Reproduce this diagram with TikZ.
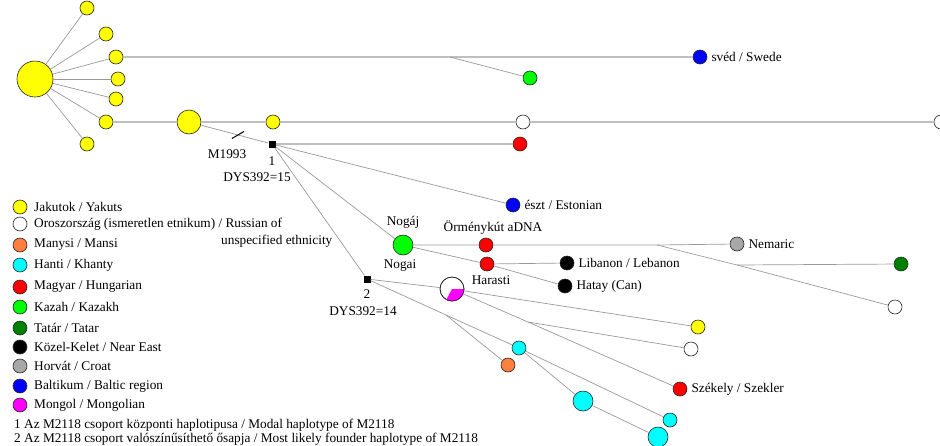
\documentclass[tikz,border=0pt]{standalone}
\usepackage{fontspec}
\setmainfont{Liberation Serif}
\usetikzlibrary{calc}

\definecolor{jak}{HTML}{FFFF00}
\definecolor{ros}{HTML}{FFFFFF}
\definecolor{man}{HTML}{FF7F3F}
\definecolor{han}{HTML}{00FFFF}
\definecolor{hun}{HTML}{FF0000}
\definecolor{kaz}{HTML}{00FF00}
\definecolor{tat}{HTML}{008000}
\definecolor{nea}{HTML}{000000}
\definecolor{cro}{HTML}{A8A8A8}
\definecolor{balt}{HTML}{0000FF}
\definecolor{mon}{HTML}{FF00FF}

\tikzset{
  hap/.style={circle, draw=black!85, line width=0.6pt, inner sep=0pt, minimum size=14pt},
  hapm/.style={hap, minimum size=20pt},
  hapl/.style={hap, minimum size=24pt},
  hapxl/.style={hap, minimum size=36pt},
  med/.style={rectangle, fill=black, inner sep=0pt, minimum size=7pt},
  link/.style={draw=gray!80, line width=0.7pt},
  trunk/.style={draw=gray!50, line width=1.8pt},
  lbl/.style={inner sep=1pt},
  rlbl/.style={lbl, anchor=west, xshift=3pt},
}

\begin{document}
\begin{tikzpicture}[x=1pt, y=-1pt, font=\fontsize{13.3}{15}\selectfont]
\useasboundingbox (0,0) rectangle (940,445);

% Yakut star
\node[hapxl, fill=jak] (yc) at (35,79) {};
\node[hap, fill=jak] (ya) at (87,8) {};
\node[hap, fill=jak] (yb) at (106,34) {};
\node[hap, fill=jak] (yd) at (116,57) {};
\node[hap, fill=jak] (ye) at (118,79) {};
\node[hap, fill=jak] (yf) at (116,99) {};
\node[hap, fill=jak] (yg) at (106,122) {};
\node[hap, fill=jak] (yh) at (87,144) {};
\foreach \s in {ya,yb,yd,ye,yf,yg,yh}
  \draw[link] (yc) -- (\s);

% swede branch
\node[hap, fill=balt] (swe) at (700,57) {};
\node[rlbl] (swel) at (swe.east) {svéd / Swede};
\coordinate (k1) at (450,57);
\node[hap, fill=kaz] (kz1) at (530,78) {};
\draw[trunk] (yd) -- (k1) -- (swe);
\draw[link] (k1) -- (kz1);

% main line
\node[hapl, fill=jak] (yy) at (189,122) {};
\node[hap, fill=jak] (yz) at (273,122) {};
\node[hap, fill=ros] (ru1) at (523,122) {};
\node[hap, fill=ros] (ru2) at (941,122) {};
\draw[trunk] (yg) -- (yy) -- (yz) -- (ru1) -- (ru2);

% median 1
\node[med] (m1) at (272,144) {};
\draw[link] (yy) -- coordinate[pos=0.55] (mut) (m1);
\draw[black, line width=1pt] ([shift={(-6,3.5)}]mut) -- ([shift={(6,-3.5)}]mut);
\node[lbl] (mutl) at (227,154) {M1993};
\node[lbl] (m1n) at (272,161) {1};
\node[lbl] (m1d) at (257,177) {DYS392=15};
\node[hap, fill=hun] (hu1) at (520,144) {};
\draw[trunk] (m1) -- (hu1);
\node[hap, fill=balt] (est) at (513,205) {};
\node[rlbl] (estl) at (est.east) {észt / Estonian};
\draw[link] (m1) -- (est);

% Nogai group
\node[hapm, fill=kaz] (nog) at (403,245) {};
\node[lbl] (nogl1) at (403,222) {Nogáj};
\node[lbl] (nogl2) at (400,266) {Nogai};
\draw[link] (m1) -- (nog);
\node[hap, fill=hun] (orm) at (486,245) {};
\node[lbl] (orml) at (493,228) {Örménykút aDNA};
\coordinate (k2) at (657,245);
\coordinate (k3) at (737,265);
\node[hap, fill=cro] (nem) at (737,244) {};
\node[rlbl] (neml) at (nem.east) {Nemaric};
\node[hap, fill=tat] (tat) at (901,264) {};
\node[hap, fill=ros] (ru3) at (895,307) {};
\draw[link] (nog) -- (orm) -- (k2) -- (nem);
\draw[link] (k2) -- (k3) -- (ru3);
\draw[link] (k3) -- (tat);
\node[hap, fill=hun] (har) at (487,264) {};
\node[lbl] (harl) at (491,280) {Harasti};
\node[hap, fill=nea] (leb) at (567,263) {};
\node[rlbl] (lebl) at (leb.east) {Libanon / Lebanon};
\node[hap, fill=nea] (hat) at (565,286) {};
\node[rlbl] (hatl) at (hat.east) {Hatay (Can)};
\draw[link] (nog) -- (har) -- (hat);
\draw[link] (har) -- (leb);

% median 2
\node[med] (m2) at (367,279) {};
\node[lbl] (m2n) at (367,294) {2};
\node[lbl] (m2d) at (363,311) {DYS392=14};
\draw[link] (m1) -- (m2);

% mixed haplotype
\node[hapl, fill=white] (pie) at (452,289) {};
\fill[mon] (pie.center) \foreach \a in {-118,-105,-90,-75,-60,-45,-30,-15,0} {-- (pie.\a)} -- cycle;
\draw[black!85, line width=0.6pt] (pie.center) circle[radius=12pt];
\draw[link] (m2) -- (pie);
\node[hap, fill=jak] (yk) at (698,327) {};
\draw[link] (pie) -- (yk);
\coordinate (k4) at (528,322);
\node[hap, fill=hun] (sze) at (680,389) {};
\node[rlbl] (szel) at (sze.east) {Székely / Szekler};
\node[hap, fill=ros] (ru4) at (691,349) {};
\draw[link] (pie) -- (k4) -- (sze);
\draw[link] (k4) -- (ru4);

% Ob-Ugric branch
\coordinate (k5) at (446,315);
\node[hap, fill=han] (kh1) at (519,348) {};
\node[hap, fill=man] (mns) at (508,365) {};
\draw[link] (m2) -- (k5) -- (kh1);
\draw[link] (k5) -- (mns);
\node[hapm, fill=han] (kh2) at (583,401) {};
\node[hap, fill=han] (kh3) at (670,420) {};
\node[hapm, fill=han] (kh4) at (658,437) {};
\draw[link] (kh1) -- (kh2) -- (kh4);
\draw[link] (kh1) -- (kh3);

% legend
\foreach \y/\c/\t [count=\i] in {
  207/jak/{Jakutok / Yakuts},
  224/ros/{Oroszország (ismeretlen etnikum) / Russian of},
  245/man/{Manysi / Mansi},
  265/han/{Hanti / Khanty},
  287/hun/{Magyar / Hungarian},
  307/kaz/{Kazah / Kazakh},
  328/tat/{Tatár / Tatar},
  347/nea/{Közel-Kelet / Near East},
  366/cro/{Horvát / Croat},
  386/balt/{Baltikum / Baltic region},
  405/mon/{Mongol / Mongolian}}
{
  \node[hap, fill=\c] (leg\i) at (20,\y) {};
  \node[lbl, anchor=west] (legt\i) at (33,\y) {\t};
}
\node[lbl, anchor=west] (legt2b) at (220,241) {unspecified ethnicity};
\node[lbl, anchor=west] (fn1) at (13,425) {1 Az M2118 csoport központi haplotipusa / Modal haplotype of M2118};
\node[lbl, anchor=west] (fn2) at (13,439) {2 Az M2118 csoport valószínűsíthető ősapja / Most likely founder haplotype of M2118};
\end{tikzpicture}
\end{document}
